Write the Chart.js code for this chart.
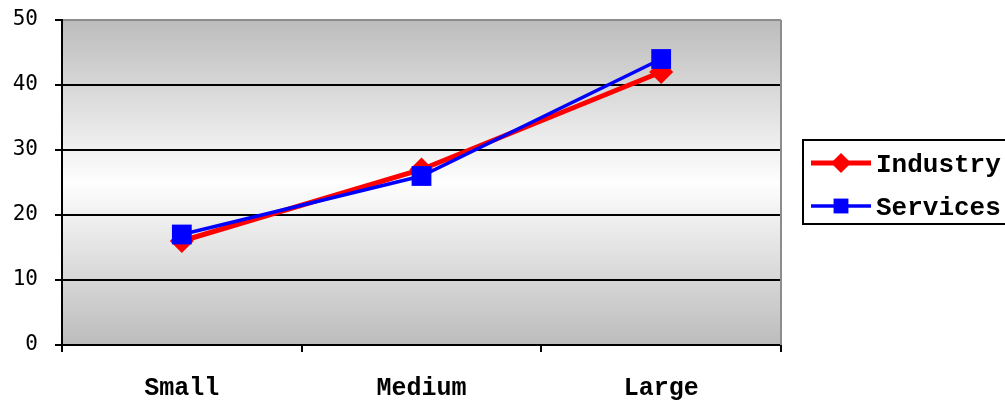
<!DOCTYPE html>
<html>
<head>
<meta charset="utf-8">
<script src="https://cdn.jsdelivr.net/npm/chart.js@4/dist/chart.umd.min.js"></script>
<style>
  html, body { margin: 0; padding: 0; background: #ffffff; }
  canvas { display: block; }
</style>
</head>
<body>
<canvas id="chart" width="1005" height="403"></canvas>
<script>
// Company size categories and the two sector series
const categories = ['Small', 'Medium', 'Large'];
const industryValues = [16, 27, 42];
const servicesValues = [17, 26, 44];
const yTicks = [0, 10, 20, 30, 40, 50];

// Gray-white-gray vertical gradient behind the plot, plus gray right edge
const plotBackground = {
  id: 'plotBackground',
  beforeDraw(chart) {
    const { ctx, chartArea: a } = chart;
    const g = ctx.createLinearGradient(0, a.top, 0, a.bottom);
    g.addColorStop(0, '#bcbcbc');
    g.addColorStop(0.5, '#fefefe');
    g.addColorStop(1, '#bcbcbc');
    ctx.save();
    ctx.fillStyle = g;
    ctx.fillRect(a.left, a.top, a.right - a.left, a.bottom - a.top);
    ctx.restore();
  },
  beforeDatasetsDraw(chart) {
    const { ctx, chartArea: a } = chart;
    ctx.save();
    ctx.strokeStyle = '#8c8c8c';
    ctx.lineWidth = 2;
    ctx.beginPath();
    ctx.moveTo(a.right, a.top);
    ctx.lineTo(a.right, a.bottom);
    ctx.stroke();
    ctx.restore();
  }
};

// Boxed legend with line-and-marker samples
const boxedLegend = {
  id: 'boxedLegend',
  afterDraw(chart) {
    const { ctx } = chart;
    const box = { x: 803, y: 140, w: 210, h: 84 };
    ctx.save();
    ctx.strokeStyle = '#000000';
    ctx.lineWidth = 2;
    ctx.strokeRect(box.x, box.y, box.w, box.h);
    const rows = [
      { ds: chart.data.datasets[0], y: 163, r: 10 },
      { ds: chart.data.datasets[1], y: 206, r: 10.5 }
    ];
    rows.forEach(row => {
      ctx.strokeStyle = row.ds.borderColor;
      ctx.lineWidth = row.ds.borderWidth;
      ctx.beginPath();
      ctx.moveTo(811, row.y);
      ctx.lineTo(871, row.y);
      ctx.stroke();
      ctx.fillStyle = row.ds.backgroundColor;
      ctx.beginPath();
      if (row.ds.pointStyle === 'rectRot') {
        ctx.moveTo(841 - row.r, row.y);
        ctx.lineTo(841, row.y - row.r);
        ctx.lineTo(841 + row.r, row.y);
        ctx.lineTo(841, row.y + row.r);
        ctx.closePath();
      } else {
        const s = row.r * Math.SQRT1_2;
        ctx.rect(841 - s, row.y - s, 2 * s, 2 * s);
      }
      ctx.fill();
      ctx.fillStyle = '#000000';
      ctx.font = 'bold 26px "Liberation Mono", "Courier New", monospace';
      ctx.textBaseline = 'middle';
      ctx.textAlign = 'left';
      ctx.fillText(row.ds.label, 876, row.y + 2);
    });
    ctx.restore();
  }
};

new Chart(document.getElementById('chart'), {
  type: 'line',
  data: {
    labels: categories,
    datasets: [
      {
        label: 'Industry',
        data: industryValues,
        borderColor: '#ff0000',
        backgroundColor: '#ff0000',
        borderWidth: 5,
        pointStyle: 'rectRot',
        pointRadius: 12,
        pointBorderWidth: 0,
        tension: 0,
        order: 1
      },
      {
        label: 'Services',
        data: servicesValues,
        borderColor: '#0000ff',
        backgroundColor: '#0000ff',
        borderWidth: 3.5,
        pointStyle: 'rect',
        pointRadius: 14,
        pointBorderWidth: 0,
        tension: 0,
        order: 0
      }
    ]
  },
  options: {
    responsive: false,
    animation: false,
    devicePixelRatio: 1,
    layout: { padding: { left: 0, right: 224, top: 20, bottom: 0 } },
    plugins: {
      legend: { display: false },
      tooltip: { enabled: false }
    },
    scales: {
      x: {
        type: 'category',
        offset: true,
        afterFit(scale) {
          scale.height = 58;
          scale.paddingLeft = 0;
          scale.paddingRight = 0;
        },
        grid: {
          offset: true,
          drawOnChartArea: false,
          drawTicks: true,
          tickLength: 7,
          color: '#000000',
          lineWidth: 2
        },
        border: { display: true, color: '#000000', width: 2 },
        ticks: {
          color: '#000000',
          padding: 22,
          maxRotation: 0,
          font: { family: '"Liberation Mono", "Courier New", monospace', size: 25, weight: 'bold' }
        }
      },
      y: {
        min: 0,
        max: 50,
        afterFit(scale) {
          scale.width = 62;
          scale.paddingTop = 0;
          scale.paddingBottom = 0;
        },
        afterBuildTicks(scale) { scale.ticks = yTicks.map(v => ({ value: v })); },
        grid: {
          drawTicks: true,
          tickLength: 7,
          tickColor: '#000000',
          color: ctx => (ctx.tick && ctx.tick.value === 50 ? '#8c8c8c' : '#000000'),
          lineWidth: 2
        },
        border: { display: true, color: '#000000', width: 2 },
        ticks: {
          color: '#000000',
          padding: 17,
          font: { family: '"DejaVu Sans Mono", monospace', size: 21 }
        }
      }
    }
  },
  plugins: [plotBackground, boxedLegend]
});
</script>
</body>
</html>
